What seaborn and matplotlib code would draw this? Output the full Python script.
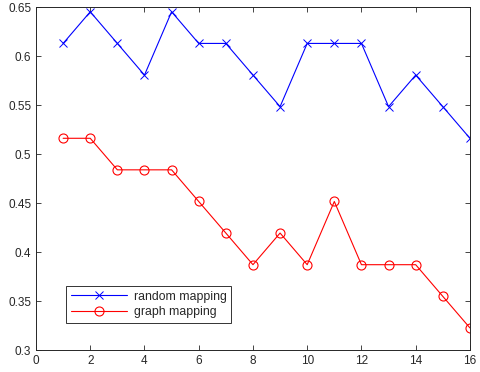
import pandas as pd
import matplotlib.pyplot as plt
import seaborn as sns

# x positions and the two accuracy curves (values in 1/31 steps)
steps = list(range(1, 17))
random_mapping = [0.6129, 0.6452, 0.6129, 0.5806, 0.6452, 0.6129, 0.6129, 0.5806,
                  0.5484, 0.6129, 0.6129, 0.6129, 0.5484, 0.5806, 0.5484, 0.5161]
graph_mapping = [0.5161, 0.5161, 0.4839, 0.4839, 0.4839, 0.4516, 0.4194, 0.3871,
                 0.4194, 0.3871, 0.4516, 0.3871, 0.3871, 0.3871, 0.3548, 0.3226]

df = pd.DataFrame({"x": steps, "random mapping": random_mapping, "graph mapping": graph_mapping})

sns.set_style("white")
plt.rcParams["font.family"] = ["Liberation Sans", "DejaVu Sans"]

fig = plt.figure(figsize=(4.8, 3.72), dpi=100)
ax = fig.add_axes([0.075, 0.059, 0.904, 0.922])

sns.lineplot(ax=ax, data=df, x="x", y="random mapping", color="blue", marker="x",
             markersize=5.5, markeredgecolor="blue", markeredgewidth=0.7, linewidth=0.8,
             label="random mapping")
sns.lineplot(ax=ax, data=df, x="x", y="graph mapping", color="red", marker="o",
             markersize=6.5, markerfacecolor="none", markeredgecolor="red",
             markeredgewidth=0.8, linewidth=0.8, label="graph mapping")

ax.set_xlim(0, 16)
ax.set_ylim(0.3, 0.65)
ax.set_xticks(range(0, 17, 2))
ax.set_yticks([0.3, 0.35, 0.4, 0.45, 0.5, 0.55, 0.6, 0.65])
ax.set_yticklabels(["0.3", "0.35", "0.4", "0.45", "0.5", "0.55", "0.6", "0.65"])
ax.set_xlabel("")
ax.set_ylabel("")
ax.tick_params(direction="in", length=3.5, width=0.6, labelsize=8.5, bottom=True, left=True,
               top=True, right=True, labeltop=False, labelright=False, colors="#262626")
for s in ax.spines.values():
    s.set_linewidth(0.7)
    s.set_color("#262626")

leg = ax.legend(loc="lower left", bbox_to_anchor=(0.07, 0.078), fontsize=8.8, frameon=True,
                fancybox=False, edgecolor="black", handlelength=4.6, borderpad=0.4,
                labelspacing=0.3, handletextpad=0.5, borderaxespad=0)
leg.get_frame().set_linewidth(0.7)

fig.savefig("out.png", dpi=100)
